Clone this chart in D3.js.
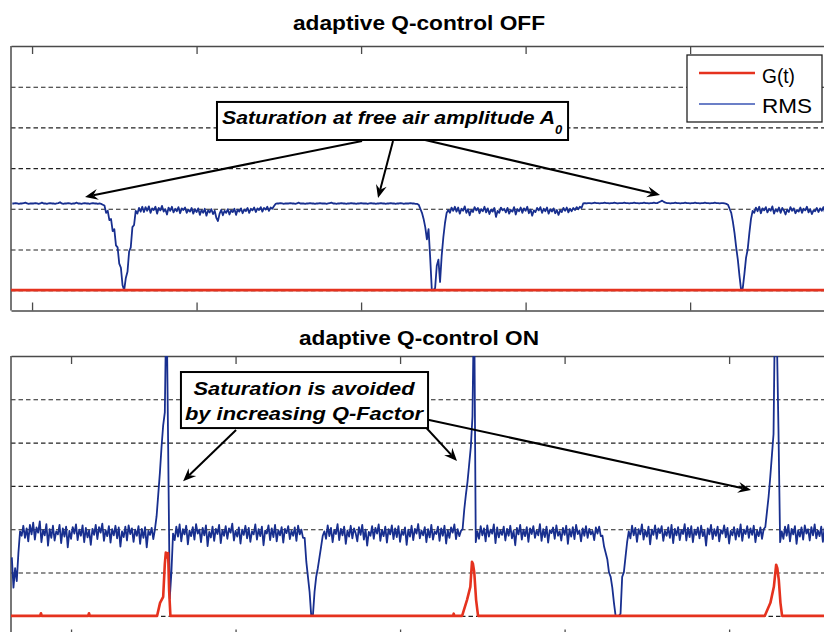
<!DOCTYPE html>
<html><head><meta charset="utf-8">
<script src="https://cdn.jsdelivr.net/npm/d3@7"></script>
<style>
body{margin:0;background:#fff}
svg{display:block}
text{font-family:Arial,"Liberation Sans",Helvetica,sans-serif;fill:#000}
</style>
</head><body>
<svg id="chart" width="824" height="632"></svg>
<script>
// ---------------- data ----------------
const titles = ["adaptive Q-control OFF", "adaptive Q-control ON"];
const seriesNames = ["G(t)", "RMS"];
const tickTimes = [100, 200, 300, 400, 500];
const gridLevels = [0, 1, 2, 3, 4, 5];

// RMS, Q-control OFF: one sample per time unit, starting at t = 88
const rmsOffStart = 88;
const rmsOff = [
2.13,2.13,2.14,2.13,2.12,2.13,2.13,2.14,2.15,2.13,
2.12,2.13,2.13,2.13,2.14,2.13,2.12,2.13,2.15,2.13,
2.13,2.12,2.13,2.14,2.13,2.13,2.12,2.13,2.14,2.16,
2.13,2.12,2.13,2.13,2.14,2.13,2.12,2.13,2.13,2.15,
2.13,2.13,2.12,2.13,2.14,2.13,2.13,2.12,2.13,2.14,
2.13,2.13,2.12,2.13,2.12,2.10,2.08,1.90,1.95,1.72,
1.75,1.45,1.50,1.10,1.05,0.65,0.55,0.12,0.00,0.30,
0.45,0.95,1.05,1.55,1.60,1.95,1.88,2.02,1.93,2.05,
1.92,2.04,1.95,2.06,1.90,2.01,1.97,2.05,1.88,2.02,
1.96,2.07,1.93,1.99,1.86,2.03,1.95,2.05,1.91,2.00,
1.94,2.04,1.89,2.01,1.97,2.03,1.90,1.98,1.93,2.02,
1.88,1.99,1.92,2.01,1.85,1.97,1.90,2.00,1.83,1.96,
1.91,1.99,1.87,1.95,1.78,1.70,1.88,1.97,1.84,1.95,
1.90,1.99,1.86,1.96,1.92,2.00,1.85,1.98,1.93,2.01,
1.89,1.98,1.94,2.02,1.90,2.00,1.96,2.03,1.92,2.01,
1.97,2.04,1.93,2.02,1.98,2.05,1.95,2.03,2.00,2.06,
2.12,2.13,2.13,2.14,2.13,2.12,2.13,2.13,2.13,2.14,
2.13,2.13,2.12,2.13,2.15,2.13,2.13,2.13,2.12,2.13,
2.13,2.14,2.13,2.13,2.12,2.13,2.13,2.14,2.13,2.13,
2.13,2.12,2.13,2.14,2.15,2.13,2.13,2.12,2.13,2.13,
2.14,2.13,2.13,2.12,2.13,2.13,2.14,2.13,2.13,2.12,
2.13,2.13,2.14,2.13,2.13,2.13,2.12,2.13,2.14,2.13,
2.13,2.12,2.13,2.13,2.14,2.13,2.13,2.12,2.13,2.13,
2.14,2.13,2.13,2.12,2.13,2.13,2.14,2.13,2.12,2.13,
2.13,2.13,2.14,2.13,2.13,2.12,2.12,2.10,2.00,1.90,
1.75,1.55,1.25,1.50,0.80,0.00,0.00,0.05,0.60,0.75,
0.20,0.85,1.30,1.65,1.90,1.97,1.90,2.03,1.95,2.05,
1.93,2.03,1.88,2.00,1.95,2.06,1.90,1.99,1.84,1.97,
1.92,2.04,1.96,2.02,1.89,1.99,1.94,2.05,1.91,2.01,
1.87,1.98,1.93,2.02,1.80,1.95,1.90,2.03,1.96,2.00,
1.91,2.02,1.88,1.97,1.93,2.04,1.86,1.99,1.94,2.03,
1.90,2.01,1.95,2.05,1.89,1.98,1.83,1.96,1.92,2.02,
1.96,2.04,1.90,2.00,1.94,2.03,1.88,1.99,1.93,2.01,
1.89,1.97,1.85,1.96,1.92,2.02,1.95,2.03,1.91,2.00,
1.94,2.02,1.97,2.04,1.99,2.05,2.02,2.13,2.14,2.13,
2.14,2.14,2.13,2.14,2.15,2.14,2.14,2.13,2.14,2.14,
2.15,2.14,2.14,2.13,2.14,2.14,2.15,2.14,2.13,2.14,
2.14,2.14,2.15,2.14,2.14,2.13,2.14,2.14,2.15,2.14,
2.14,2.13,2.14,2.14,2.15,2.14,2.14,2.13,2.14,2.14,
2.15,2.14,2.14,2.16,2.18,2.20,2.17,2.15,2.14,2.14,
2.13,2.14,2.14,2.15,2.14,2.14,2.13,2.14,2.14,2.15,
2.14,2.14,2.13,2.14,2.14,2.15,2.14,2.14,2.13,2.14,
2.14,2.15,2.14,2.14,2.13,2.14,2.14,2.15,2.14,2.14,
2.13,2.14,2.14,2.13,2.12,2.10,2.00,1.90,1.68,1.40,
1.05,0.75,0.35,0.00,0.05,0.40,0.80,1.00,1.40,1.75,
1.95,1.90,2.03,1.94,2.05,1.89,2.01,1.96,2.04,1.91,
2.00,1.95,2.06,1.88,1.99,1.93,2.03,1.90,2.02,1.96,
1.86,1.98,1.92,2.04,1.95,2.01,1.89,1.97,1.93,2.03,
1.90,2.00,1.96,2.05,1.91,1.99,1.87,1.96,1.94,2.02,
1.92,2.01,1.95,2.04,1.90,1.99
];

// RMS, Q-control ON: one sample per time unit, starting at t = 64
const rmsOnStart = 64;
const rmsOn = [
1.35,0.65,1.10,0.80,1.45,1.95,1.85,2.08,1.80,2.02,
1.72,2.10,1.88,2.15,1.76,2.04,1.92,2.18,1.70,1.98,
1.86,2.12,1.62,2.00,1.80,2.08,1.74,1.95,1.88,2.10,
1.68,2.02,1.83,2.06,1.58,1.96,1.78,2.05,1.90,2.11,
1.75,1.99,1.85,2.09,1.70,2.03,1.81,1.97,1.64,2.01,
1.87,2.10,1.77,2.05,1.92,2.13,1.73,1.98,1.84,2.07,
1.69,2.00,1.86,2.08,1.79,2.04,1.60,1.95,1.82,2.06,
1.74,2.09,1.89,2.02,1.71,1.99,1.85,2.07,1.66,2.01,
1.80,2.05,1.58,1.96,1.87,2.03,1.77,2.00,2.30,2.80,
3.30,3.90,4.40,4.70,7.50,4.00,0.40,1.00,1.90,1.75,
2.06,1.83,2.11,1.72,2.00,1.88,2.08,1.65,1.97,1.84,
2.05,1.76,2.12,1.90,1.99,1.70,2.03,1.86,2.09,1.61,
1.94,1.81,2.06,1.73,2.01,1.89,2.10,1.68,1.98,1.85,
2.07,1.78,2.02,1.92,2.13,1.74,1.96,1.83,2.04,1.67,
1.99,1.87,2.08,1.79,2.03,1.71,1.95,1.88,2.11,1.76,
2.00,1.84,2.06,1.63,1.97,1.90,2.09,1.75,2.02,1.82,
2.10,1.72,1.98,1.86,2.05,1.69,2.01,1.91,2.07,1.77,
1.96,1.85,2.04,1.73,2.08,1.88,1.99,1.80,1.80,1.25,
0.90,0.55,0.00,0.00,0.55,0.90,1.10,1.35,1.60,1.85,
1.95,1.78,2.09,1.84,2.03,1.70,1.98,1.89,2.12,1.75,
2.01,1.86,2.06,1.66,1.97,1.83,2.08,1.79,2.02,1.91,
1.72,2.05,1.87,2.10,1.76,1.99,1.62,1.94,1.85,2.07,
1.78,2.03,1.90,2.11,1.73,1.98,1.84,2.06,1.69,2.00,
1.88,2.09,1.77,2.02,1.82,2.07,1.71,1.96,1.87,2.04,
1.64,1.99,1.83,2.08,1.75,2.01,1.90,2.12,1.79,1.97,
1.86,2.05,1.70,2.00,1.81,2.10,1.76,1.95,1.89,2.06,
1.73,2.02,1.85,2.08,1.67,1.98,1.80,2.04,1.92,2.11,
1.77,2.00,1.84,1.96,2.00,2.45,2.80,3.10,3.50,3.90,
4.60,7.50,1.70,1.95,1.78,2.07,1.86,2.02,1.72,2.09,
1.83,1.99,1.90,2.11,1.68,2.04,1.81,1.97,1.87,2.06,
1.74,2.01,1.85,2.08,1.79,1.96,1.63,2.03,1.88,2.10,
1.76,1.99,1.84,2.05,1.71,2.02,1.89,2.07,1.80,1.97,
1.86,2.12,1.73,2.00,1.82,2.06,1.69,1.98,1.91,2.04,
1.78,2.09,1.85,1.95,1.74,2.03,1.87,2.08,1.66,2.00,
1.83,2.05,1.77,2.10,1.89,1.97,1.72,2.02,1.85,2.07,
1.80,2.01,1.88,1.96,1.75,2.04,1.90,2.06,1.84,1.85,
1.60,1.45,1.30,1.00,0.90,0.65,0.30,0.00,0.00,0.00,
0.05,0.90,1.00,1.35,1.70,1.95,1.79,2.08,1.86,2.03,
1.71,2.00,1.88,2.11,1.76,1.97,1.83,2.06,1.65,1.99,
1.87,2.09,1.78,2.02,1.91,2.07,1.73,1.96,1.85,2.04,
1.80,2.10,1.68,2.01,1.86,2.05,1.75,1.98,1.89,2.12,
1.74,2.03,1.82,2.07,1.70,1.99,1.87,2.04,1.79,2.08,
1.84,1.97,1.62,2.02,1.88,2.10,1.77,2.00,1.85,2.06,
1.72,1.98,1.90,2.09,1.81,2.03,1.67,1.96,1.86,2.05,
1.76,2.01,1.83,2.11,1.73,1.99,1.89,2.07,1.80,2.02,
1.87,2.08,1.70,1.97,1.84,2.04,1.78,2.00,2.05,2.40,
2.75,3.20,3.70,4.20,7.50,6.50,4.30,1.70,1.95,1.78,
2.06,1.85,2.10,1.72,2.01,1.88,2.07,1.66,1.98,1.83,
2.04,1.76,2.09,1.90,2.00,1.74,2.05,1.86,2.11,1.79,
1.97,1.84,2.06,1.71,2.02,1.88
];

// G(t) as [time, value] points
const gOff = [[87.2,0],[583.2,0]];
const gOn = [
[63.5,0],[81.2,0],[81.7,0.06],[82.2,0],[110.4,0],[110.9,0.06],[111.4,0],
[152.3,0],[154.1,0.3],[156,0.44],[157,1.2],[157.6,1.46],[158.4,1.35],[159,1.45],[159.6,0.6],[160.4,0],
[332.2,0],[332.6,0.05],[333,0],
[337.7,0],[340.7,0.37],[342.7,0.67],[343.7,1.25],[344.3,1.2],[345.1,1.0],[346.2,0.37],[347.4,0],
[521.7,0],[525.1,0.3],[527.2,0.67],[528.6,1.18],[529.3,1.1],[530.2,0.83],[531.2,0.3],[532.2,0],
[559.5,0]
];

// annotation texts
const noteOff = "Saturation at free air amplitude A";
const noteOffSub = "0";
const noteOnLines = ["Saturation is avoided", "by increasing Q-Factor"];

// ---------------- drawing ----------------
const svg = d3.select("#chart");
const defs = svg.append("defs");
const RED = "#e5321e", BLUE = "#182f8f", FRAME = "#4a4a4a";
const left = 11, right = 827;

function arrow(g, x1, y1, x2, y2) {
  const dx = x2 - x1, dy = y2 - y1, L = Math.hypot(dx, dy);
  const ux = dx / L, uy = dy / L, px = -uy, py = ux;
  const hl = 13, hw = 5.5;
  const bx = x2 - ux * hl, by = y2 - uy * hl;
  const nx = x2 - ux * hl * 0.65, ny = y2 - uy * hl * 0.65;
  g.append("line").attr("x1", x1).attr("y1", y1).attr("x2", nx).attr("y2", ny)
    .attr("stroke", "#000").attr("stroke-width", 2);
  g.append("path")
    .attr("d", `M${x2},${y2}L${bx + px * hw},${by + py * hw}L${nx},${ny}L${bx - px * hw},${by - py * hw}Z`)
    .attr("fill", "#000");
}

function panel(cfg) {
  const x = d3.scaleLinear().domain(cfg.xDomain).range([left, right]);
  const y = d3.scaleLinear().domain([-0.5, 6]).range([cfg.bottom, cfg.top]);
  const g = svg.append("g");

  defs.append("clipPath").attr("id", "clip" + cfg.key)
    .append("rect").attr("x", left).attr("y", cfg.top)
    .attr("width", right - left).attr("height", cfg.bottom - cfg.top);

  // dashed horizontal grid
  g.append("g").attr("transform", `translate(${left},0)`)
    .call(d3.axisLeft(y).tickValues(gridLevels).tickSize(-(right - left)).tickFormat(""))
    .call(s => {
      s.select(".domain").remove();
      s.selectAll(".tick line").attr("stroke", "#222").attr("stroke-width", 1.1)
        .attr("stroke-dasharray", "4.5,3");
    });

  // top and bottom frame with inward ticks
  g.append("g").attr("transform", `translate(0,${cfg.top})`)
    .call(d3.axisBottom(x).tickValues(tickTimes).tickSizeInner(8).tickSizeOuter(0).tickFormat(""))
    .call(s => { s.selectAll("line,path").attr("stroke", FRAME).attr("stroke-width", 1.3); });
  g.append("g").attr("transform", `translate(0,${cfg.bottom})`)
    .call(d3.axisTop(x).tickValues(tickTimes).tickSizeInner(8).tickSizeOuter(0).tickFormat(""))
    .call(s => { s.selectAll("line,path").attr("stroke", FRAME).attr("stroke-width", 1.3); });
  g.append("line").attr("x1", left).attr("x2", left).attr("y1", cfg.top).attr("y2", cfg.bottom)
    .attr("stroke", FRAME).attr("stroke-width", 1.5);

  const line = d3.line().x(d => x(d[0])).y(d => y(d[1]));
  const plot = g.append("g").attr("clip-path", `url(#clip${cfg.key})`);
  plot.append("path").datum(cfg.rms.map((v, i) => [cfg.rmsStart + i, v]))
    .attr("d", line).attr("fill", "none").attr("stroke", BLUE)
    .attr("stroke-width", 1.8).attr("stroke-linejoin", "round");
  plot.append("path").datum(cfg.gt)
    .attr("d", line).attr("fill", "none").attr("stroke", RED)
    .attr("stroke-width", 2.6).attr("stroke-linejoin", "round");

  // title
  svg.append("text").attr("x", 419).attr("y", cfg.titleY)
    .attr("text-anchor", "middle").attr("font-size", 20).attr("font-weight", "bold")
    .attr("textLength", cfg.titleW).attr("lengthAdjust", "spacingAndGlyphs")
    .text(cfg.title);
  return { x, y, g };
}

// ---- top panel ----
const P1 = panel({ key: "a", xDomain: [87.2, 583.2], top: 46, bottom: 310.5,
  rms: rmsOff, rmsStart: rmsOffStart, gt: gOff, title: titles[0], titleY: 30, titleW: 252 });
{
  const { x, y, g } = P1;
  const a = g.append("g");
  arrow(a, x(300.6), y(3.667), x(132.2), y(2.29));
  arrow(a, x(319.4), y(3.667), x(310.3), y(2.265));
  arrow(a, x(338.9), y(3.69), x(481.7), y(2.34));
  a.append("rect").attr("x", x(212.4)).attr("y", y(4.625))
    .attr("width", x(425.8) - x(212.4)).attr("height", y(3.69) - y(4.625))
    .attr("fill", "#fff").attr("stroke", "#000").attr("stroke-width", 2);
  a.append("text").attr("x", x(215.5)).attr("y", y(4.085))
    .attr("font-size", 19).attr("font-style", "italic").attr("font-weight", "bold")
    .attr("fill", "#222")
    .attr("textLength", 333).attr("lengthAdjust", "spacingAndGlyphs").text(noteOff);
  a.append("text").attr("x", x(417.9)).attr("y", y(3.84))
    .attr("font-size", 13).attr("font-style", "italic").attr("font-weight", "bold")
    .attr("fill", "#222").text(noteOffSub);

  // legend
  const L = g.append("g");
  L.append("rect").attr("x", 687).attr("y", 55).attr("width", 135).attr("height", 67)
    .attr("fill", "#fff").attr("stroke", "#222").attr("stroke-width", 1.3);
  L.append("line").attr("x1", 699).attr("x2", 755).attr("y1", 73).attr("y2", 73)
    .attr("stroke", RED).attr("stroke-width", 2.6);
  L.append("line").attr("x1", 699).attr("x2", 755).attr("y1", 104).attr("y2", 104)
    .attr("stroke", "#3a55b5").attr("stroke-width", 1.3);
  L.append("text").attr("x", 762).attr("y", 83).attr("font-size", 20)
    .attr("textLength", 33).attr("lengthAdjust", "spacingAndGlyphs").text(seriesNames[0]);
  L.append("text").attr("x", 762).attr("y", 113).attr("font-size", 20)
    .attr("textLength", 50).attr("lengthAdjust", "spacingAndGlyphs").text(seriesNames[1]);
}

// ---- bottom panel ----
const P2 = panel({ key: "b", xDomain: [63.5, 559.5], top: 356, bottom: 637.5,
  rms: rmsOn, rmsStart: rmsOnStart, gt: gOn, title: titles[1], titleY: 345, titleW: 240 });
{
  const { x, y, g } = P2;
  const a = g.append("g");
  arrow(a, x(200.3), y(4.29), x(168.1), y(3.11));
  arrow(a, x(312.1), y(4.50), x(334.6), y(3.574));
  arrow(a, x(312.1), y(4.57), x(513.3), y(2.905));
  a.append("rect").attr("x", x(166.8)).attr("y", y(5.63))
    .attr("width", x(317.0) - x(166.8)).attr("height", y(4.336) - y(5.63))
    .attr("fill", "#fff").attr("stroke", "#000").attr("stroke-width", 2);
  const widths = [221, 238];
  const vals = [5.098, 4.52];
  noteOnLines.forEach((s, i) => {
    a.append("text").attr("x", x(241.6)).attr("y", y(vals[i]))
      .attr("text-anchor", "middle").attr("font-size", 19)
      .attr("font-style", "italic").attr("font-weight", "bold").attr("fill", "#222")
      .attr("textLength", widths[i]).attr("lengthAdjust", "spacingAndGlyphs").text(s);
  });
}
</script>
</body></html>
